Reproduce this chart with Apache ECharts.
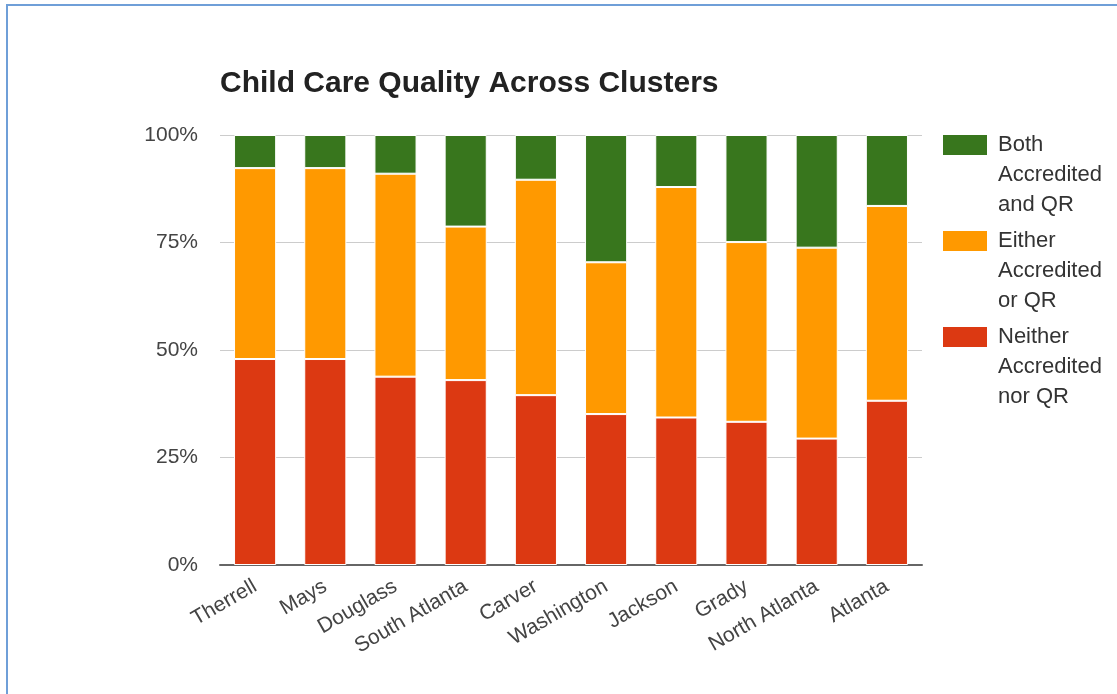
<!DOCTYPE html>
<html>
<head>
<meta charset="utf-8">
<script src="https://cdn.jsdelivr.net/npm/echarts@6/dist/echarts.min.js"></script>
<style>
  html, body { margin: 0; padding: 0; background: #fff; }
  #frame { position: absolute; left: 6px; top: 4px; width: 1111px; height: 690px;
           border-left: 2px solid #6f9fd8; border-top: 2px solid #6f9fd8; box-sizing: border-box; }
  #chart { position: absolute; left: 0; top: 0; width: 1117px; height: 694px; }
</style>
</head>
<body>
<div id="frame"></div>
<div id="chart"></div>
<script>
// Cluster names along the x axis
const clusters = ['Therrell', 'Mays', 'Douglass', 'South Atlanta', 'Carver',
                  'Washington', 'Jackson', 'Grady', 'North Atlanta', 'Atlanta'];

// Share of child care providers (%) in each quality group, per cluster
const neitherPct = [47.9, 47.9, 43.8, 43.0, 39.5, 35.1, 34.3, 33.3, 29.4, 38.2];
const eitherPct  = [44.4, 44.4, 47.2, 35.7, 50.1, 35.3, 53.6, 41.8, 44.4, 45.3];
const bothPct    = [ 7.7,  7.7,  9.0, 21.3, 10.4, 29.6, 12.1, 24.9, 26.2, 16.5];

const seriesNames = ['Neither Accredited nor QR', 'Either Accredited or QR', 'Both Accredited and QR'];
const legendOrder = ['Both Accredited and QR', 'Either Accredited or QR', 'Neither Accredited nor QR'];
// Legend labels wrap onto three lines; two leading blank lines keep the
// first line level with the colour swatch.
const legendLines = {
  'Both Accredited and QR': '\n\nBoth\nAccredited\nand QR',
  'Either Accredited or QR': '\n\nEither\nAccredited\nor QR',
  'Neither Accredited nor QR': '\n\nNeither\nAccredited\nnor QR'
};
const colors = ['#dc3912', '#ff9900', '#38761d'];
const yTicks = [0, 25, 50, 75, 100];

const FONT = 'Liberation Sans, Arial, sans-serif';

const chart = echarts.init(document.getElementById('chart'), null, { renderer: 'canvas' });

const values = [neitherPct, eitherPct, bothPct];
const series = seriesNames.map((name, i) => ({
  name: name,
  type: 'bar',
  stack: 'share',
  barWidth: '60%',
  data: values[i],
  itemStyle: { color: colors[i], borderColor: '#ffffff', borderWidth: 1 },
  emphasis: { disabled: true }
}));

chart.setOption({
  animation: false,
  backgroundColor: 'transparent',
  title: {
    text: 'Child Care Quality Across Clusters',
    left: 220,
    top: 69,
    padding: 0,
    textStyle: { fontFamily: FONT, fontSize: 30, fontWeight: 'bold', color: '#222' }
  },
  grid: { left: 220, right: 195, top: 135, bottom: 129, containLabel: false },
  legend: {
    orient: 'vertical',
    left: 941,
    top: 70,
    padding: 0,
    itemWidth: 46,
    itemHeight: 22,
    itemGap: -54,
    icon: 'rect',
    data: legendOrder,
    selectedMode: false,
    formatter: name => legendLines[name],
    textStyle: { fontFamily: FONT, fontSize: 22, color: '#333', lineHeight: 30, padding: [0, 0, 0, 5] }
  },
  xAxis: {
    type: 'category',
    data: clusters,
    axisTick: { show: false },
    axisLine: { lineStyle: { color: '#666', width: 2 } },
    axisLabel: { rotate: 30, interval: 0, margin: 20, fontFamily: FONT, fontSize: 21, color: '#444' }
  },
  yAxis: {
    type: 'value',
    min: yTicks[0],
    max: yTicks[yTicks.length - 1],
    interval: 25,
    axisLine: { show: false },
    axisTick: { show: false },
    splitLine: { lineStyle: { color: '#cccccc', width: 1 } },
    axisLabel: { formatter: '{value}%', margin: 22, fontFamily: FONT, fontSize: 21, color: '#444' }
  },
  series: series
});
</script>
</body>
</html>
